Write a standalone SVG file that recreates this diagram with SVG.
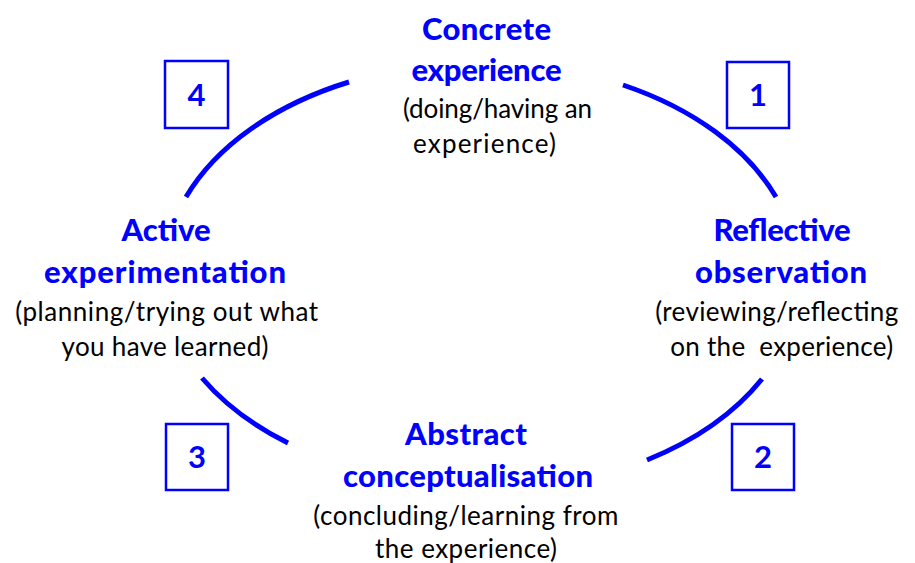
<svg xmlns="http://www.w3.org/2000/svg" width="915" height="563" viewBox="0 0 915 563">
<style>
.arc{fill:none;stroke:#0000FF;stroke-width:5;stroke-linecap:butt}
.box{fill:none;stroke:#0000FF;stroke-width:2.5}
.num{font-family:Lato,"Liberation Sans",sans-serif;font-weight:bold;font-size:31px;fill:#0000FF;text-anchor:middle}
.title{font-family:Lato,"Liberation Sans",sans-serif;font-weight:900;font-size:31px;fill:#0000FF;text-anchor:middle}
.sub{font-family:Lato,"Liberation Sans",sans-serif;font-size:26px;fill:#000000;text-anchor:middle}
</style>
<rect width="915" height="563" fill="#FFFFFF"/>
<g id="connectors">
<path class="arc" d="M186,197 A318,212 0 0 1 349,82"/>
<path class="arc" d="M623,85 A318,212 0 0 1 776,197"/>
<path class="arc" d="M762,379 A318,212 0 0 1 647,460"/>
<path class="arc" d="M288,443 A318,212 0 0 1 202,378"/>
</g>
<g id="box1"><rect class="box" x="727" y="62" width="62" height="66"/><text class="num" x="758" y="106">1</text></g>
<g id="box2"><rect class="box" x="732" y="424" width="62" height="66"/><text class="num" x="763" y="468">2</text></g>
<g id="box3"><rect class="box" x="166" y="424" width="62" height="66"/><text class="num" x="197" y="468">3</text></g>
<g id="box4"><rect class="box" x="165" y="61" width="63" height="67"/><text class="num" x="196.5" y="106">4</text></g>
<g id="concrete">
<text class="title" x="486.5" y="40" textLength="129">Concrete</text>
<text class="title" x="486.5" y="81" textLength="150">experience</text>
<text class="sub" x="497.5" y="118" textLength="189">(doing/having an</text>
<text class="sub" x="484.5" y="153" textLength="143">experience)</text>
</g>
<g id="reflective">
<text class="title" x="782" y="241" textLength="137">Reflective</text>
<text class="title" x="781" y="283" textLength="172">observation</text>
<text class="sub" x="776.7" y="321" textLength="243">(reviewing/reflecting</text>
<text class="sub" x="781.7" y="356" textLength="223" xml:space="preserve">on the  experience)</text>
</g>
<g id="abstract">
<text class="title" x="466" y="445" textLength="122">Abstract</text>
<text class="title" x="468" y="487" textLength="250">conceptualisation</text>
<text class="sub" x="465.8" y="525" textLength="305">(concluding/learning from</text>
<text class="sub" x="466" y="558" textLength="182">the experience)</text>
</g>
<g id="active">
<text class="title" x="166" y="241" textLength="89">Active</text>
<text class="title" x="165" y="283" textLength="242">experimentation</text>
<text class="sub" x="166.7" y="321" textLength="303">(planning/trying out what</text>
<text class="sub" x="165" y="356" textLength="207">you have learned)</text>
</g>
</svg>
